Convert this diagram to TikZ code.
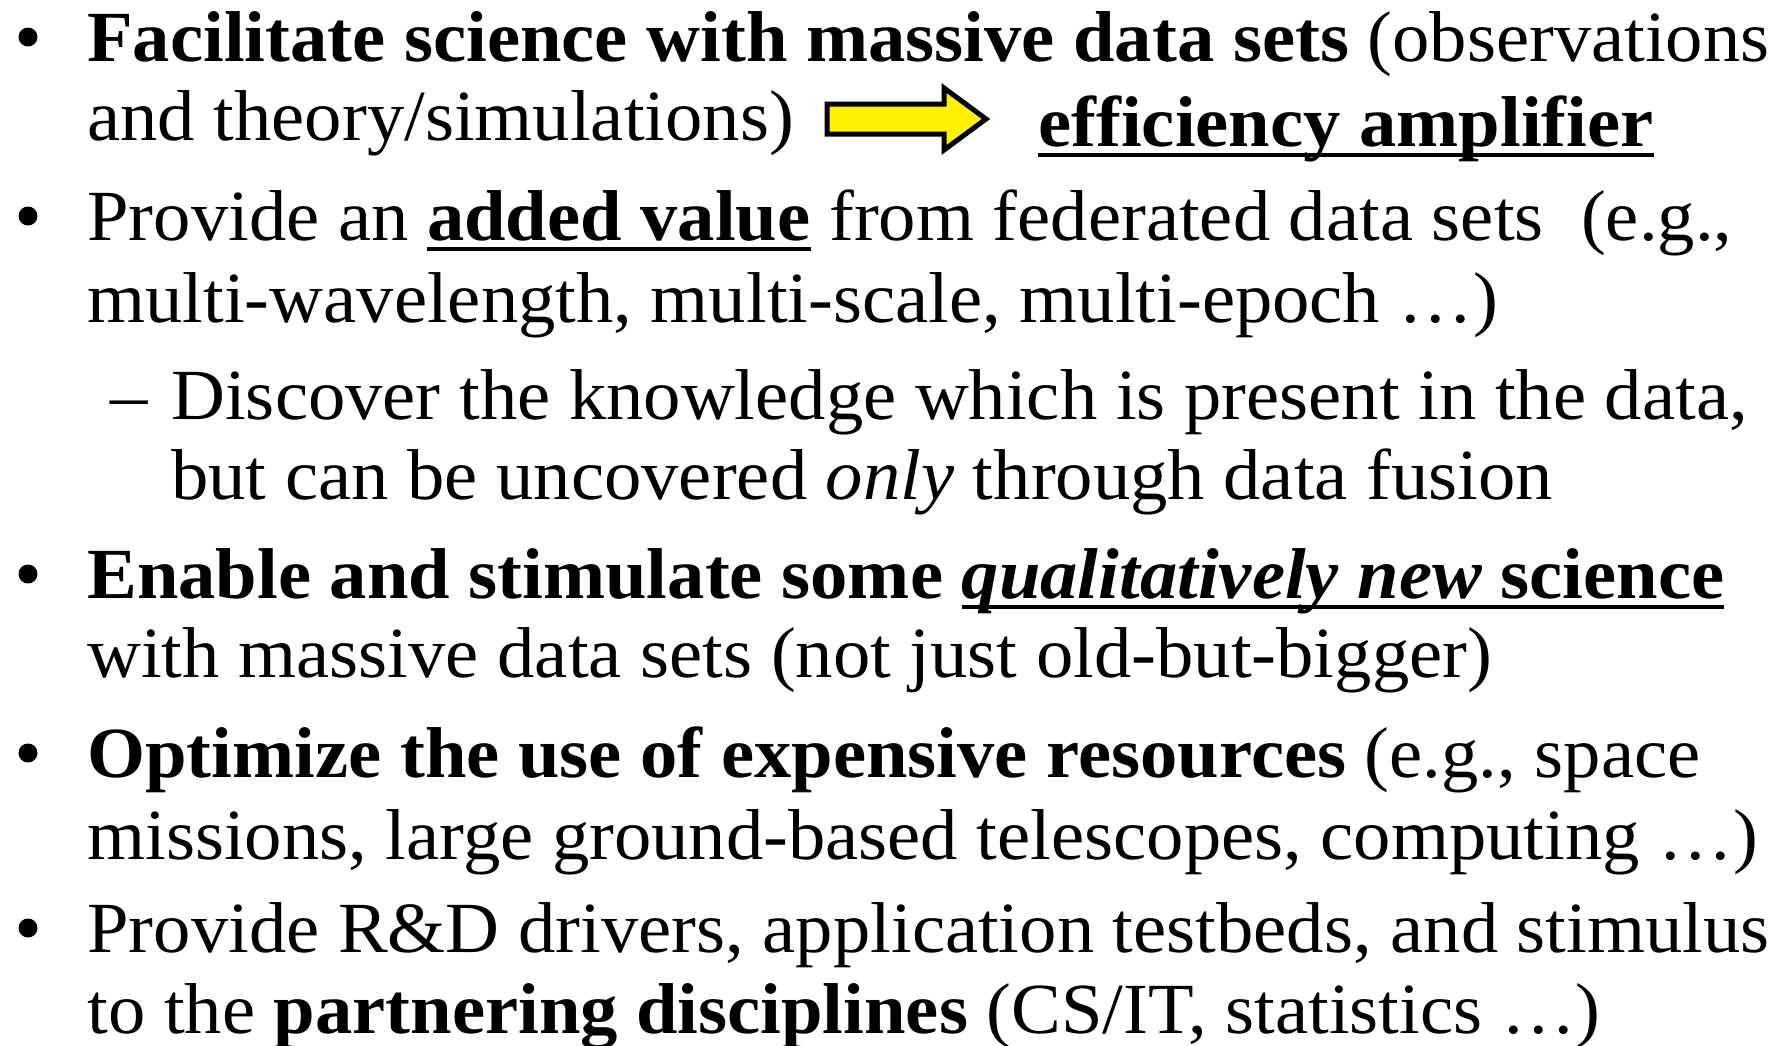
\documentclass[tikz,border=0pt]{standalone}
\usepackage{fontspec}
\setmainfont[FakeStretch=1.036]{Liberation Serif}
\usetikzlibrary{positioning}

% underline at a fixed depth below the baseline
\newcommand\ulbox[1]{\setbox0\hbox{#1}\rlap{\rule[-5.5pt]{\wd0}{2pt}}\box0\relax}

\begin{document}
\begin{tikzpicture}[
  x=0.5pt, y=-0.5pt,
  txt/.style={anchor=base west, inner sep=0pt, font=\fontsize{36}{40}\selectfont},
  bullet/.style={circle, fill=black, inner sep=0pt, minimum size=9.5pt},
  dashmark/.style={anchor=base, inner sep=0pt, font=\fontsize{36}{40}\selectfont},
  fatarrow/.style={draw=black, line width=2.5pt, fill=yellow, line join=miter}
]
\useasboundingbox (0,0) rectangle (1791,1045);

% first item
\node[bullet] (b1) at (28,37) {};
\node[txt] (l1) at (87,61) {\textbf{Facilitate science with massive data sets} (observations};
\node[txt] (l2) at (87,140) {and theory/simulations)};
\node[txt] (amp) at (1038,146) {\ulbox{\textbf{efficiency amplifier}}};
\draw[fatarrow] (827,104) -- (944,104) -- (944,88) -- (986,119) -- (944,150) -- (944,134) -- (827,134) -- cycle;

% second item
\node[bullet] (b2) at (28,216) {};
\node[txt] (l3) at (87,240) {Provide an \ulbox{\textbf{added value}} from federated data sets\ \ (e.g.,};
\node[txt] (l4) at (87,322) {multi-wavelength, multi-scale, multi-epoch …)};
\node[dashmark] (d1) at (129,419) {–};
\node[txt] (l5) at (171,419) {Discover the knowledge which is present in the data,};
\node[txt] (l6) at (171,499) {but can be uncovered \textit{only} through data fusion};

% third item
\node[bullet] (b3) at (28,574) {};
\node[txt] (l7) at (87,598) {\textbf{Enable and stimulate some \ulbox{\textit{qualitatively new} science}}};
\node[txt] (l8) at (87,677) {with massive data sets (not just old-but-bigger)};

% fourth item
\node[bullet] (b4) at (28,753) {};
\node[txt] (l9) at (87,777) {\textbf{Optimize the use of expensive resources} (e.g., space};
\node[txt] (l10) at (87,859) {missions, large ground-based telescopes, computing …)};

% fifth item
\node[bullet] (b5) at (28,928) {};
\node[txt] (l11) at (87,952) {Provide R\&D drivers, application testbeds, and stimulus};
\node[txt] (l12) at (87,1033) {to the \textbf{partnering disciplines} (CS/IT, statistics …)};
\end{tikzpicture}
\end{document}
